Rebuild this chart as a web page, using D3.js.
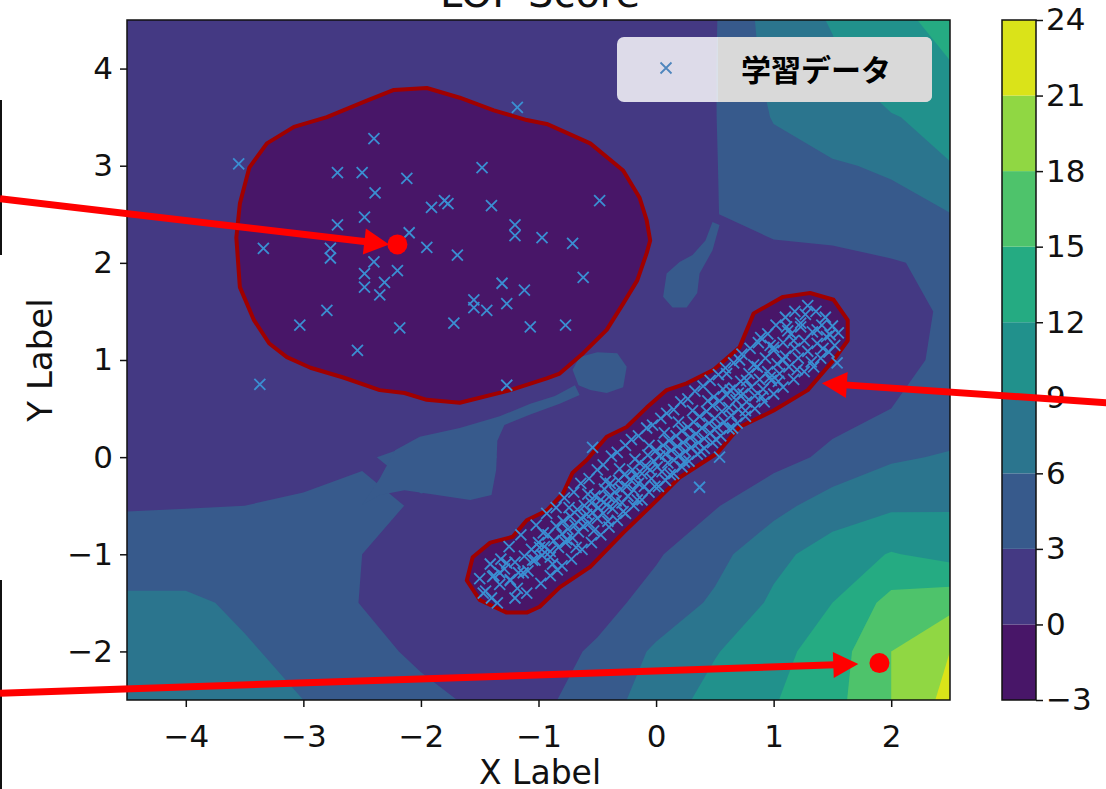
<!DOCTYPE html>
<html lang="ja">
<head>
<meta charset="UTF-8" />
<title>LOF Score</title>
<style>
  body { margin: 0; background: #fff; }
  svg { display: block; font-family: "DejaVu Sans", sans-serif; }
</style>
</head>
<body>
<svg width="1106" height="789"></svg>
<script src="https://d3js.org/d3.v7.min.js"></script>
<script>
// contour levels of the LOF score
const levels = [-3, 0, 3, 6, 9, 12, 15, 18, 21, 24];
const xTicks = [-4, -3, -2, -1, 0, 1, 2];
const yTicks = [-2, -1, 0, 1, 2, 3, 4];

// score on a 0.5 grid (rows top -> bottom)
const gridXs = [-4.5, -4, -3.5, -3, -2.5, -2, -1.5, -1, -0.5, 0, 0.5, 1, 1.5, 2, 2.5];
const gridYs = [4.5, 4, 3.5, 3, 2.5, 2, 1.5, 1, 0.5, 0, -0.5, -1, -1.5, -2, -2.5];
const scoreGrid = [
  [2, 2, 2, 2, 2, 2, 2, 2, 2, 2.2, 2.8, 7.5, 9.2, 11.2, 13],
  [2, 2, 2, 2, 2, 2, 2, 2, 2, 2.3, 2.9, 7, 8.5, 11, 11.8],
  [2, 2, 2, 2, 1.2, 1.2, 1.2, 1.2, 1.8, 2.0, 2.9, 6.2, 7.8, 8.8, 10],
  [2, 2, 2, 1.2, 1, 1, 1, 1, 1.3, 2.2, 2.9, 4.8, 5.7, 6.4, 8.9],
  [2, 2, 1.5, 1, 1, 1, 1, 1, 1, 2.0, 2.9, 4.3, 4.8, 5.0, 5.9],
  [2, 2, 1.5, 1, 1, 1, 1, 1, 1, 2.3, 3.0, 1.8, 2.0, 2.8, 3.6],
  [2, 2, 1.5, 1, 1, 1, 1, 1, 1, 2.5, 1.5, 0.5, 0.5, 2.0, 3.4],
  [2, 2, 2, 1, 1, 1, 1, 1, 2.5, 2.0, 1.2, 0.5, 1.0, 2.3, 3.5],
  [2, 2, 2, 2, 1.8, 1.7, 2.7, 2.9, 2.0, 1.0, 0.5, 1.0, 2.0, 3.0, 4.0],
  [2.1, 2.1, 2.1, 2.2, 2.8, 3.6, 3.5, 1.8, 1.0, 0.5, 1.0, 2.0, 3.6, 5.6, 6.3],
  [2.8, 2.9, 3.0, 3.3, 3.5, 2.8, 2.5, 1.0, 0.5, 1.0, 2.8, 5.0, 7.5, 8.5, 8.7],
  [4.5, 4.5, 4.6, 4.0, 3.0, 1.5, 0.8, 0.5, 1.0, 2.7, 5.0, 8.2, 10.3, 12.2, 11.0],
  [6.5, 6.5, 5.5, 4.5, 2.9, 1.8, 1.0, 1.0, 2.0, 4.0, 6.5, 9.5, 12.0, 16.0, 17.0],
  [7.0, 7.0, 6.3, 5.2, 4.0, 2.4, 1.5, 1.8, 3.4, 6.5, 8.8, 11, 13.5, 18, 21],
  [7.5, 7.5, 7.0, 6.0, 4.8, 3.8, 2.5, 2.3, 4.5, 7.5, 10, 11.8, 14, 18, 22]
];

// thin 3-6 ridge between the two groups
const ridgeBlobs = [
  [[-2.50, -0.49], [-2.35, -0.22], [-2.22, 0.07], [-2.01, 0.21], [-1.67, 0.30], [-1.33, 0.42],
   [-1.07, 0.55], [-0.86, 0.63], [-0.69, 0.74], [-0.65, 0.64], [-0.82, 0.55], [-1.07, 0.44],
   [-1.29, 0.33], [-1.35, 0.17], [-1.36, -0.13], [-1.40, -0.39], [-1.58, -0.44], [-1.92, -0.38],
   [-2.14, -0.34], [-2.35, -0.39]],
  [[-0.71, 0.90], [-0.65, 1.03], [-0.50, 1.08], [-0.33, 1.07], [-0.25, 0.93], [-0.28, 0.72],
   [-0.42, 0.66], [-0.56, 0.69], [-0.66, 0.74]],
  [[0.09, 1.89], [0.20, 2.01], [0.31, 2.08], [0.42, 2.23], [0.48, 2.42], [0.54, 2.39],
   [0.48, 2.13], [0.37, 1.89], [0.35, 1.69], [0.26, 1.54], [0.14, 1.54], [0.06, 1.65]]
];

// score < 0 regions (outlined in dark red)
const inlierRegions = [
  [[-2.80, 3.50], [-2.46, 3.67], [-2.23, 3.78], [-1.95, 3.80], [-1.67, 3.70], [-1.38, 3.57],
   [-1.10, 3.47], [-0.93, 3.43], [-0.56, 3.23], [-0.28, 2.95], [-0.14, 2.67], [-0.08, 2.44],
   [-0.05, 2.23], [-0.08, 2.10], [-0.16, 1.82], [-0.28, 1.58], [-0.42, 1.31], [-0.62, 1.07],
   [-0.82, 0.86], [-0.93, 0.81], [-1.24, 0.69], [-1.67, 0.56], [-1.95, 0.59], [-2.14, 0.66],
   [-2.35, 0.69], [-2.66, 0.82], [-2.94, 0.92], [-3.14, 1.03], [-3.29, 1.17], [-3.42, 1.41],
   [-3.54, 1.75], [-3.57, 2.26], [-3.54, 2.61], [-3.46, 2.98], [-3.31, 3.23], [-3.08, 3.40]],
  [[1.08, 1.65], [1.31, 1.69], [1.51, 1.62], [1.63, 1.41], [1.63, 1.20], [1.51, 1.00],
   [1.29, 0.69], [1.00, 0.48], [0.71, 0.31], [0.52, 0.04], [0.20, -0.21], [0.01, -0.44],
   [-0.28, -0.78], [-0.56, -1.13], [-0.82, -1.34], [-0.99, -1.54], [-1.10, -1.60], [-1.27, -1.60],
   [-1.50, -1.47], [-1.61, -1.27], [-1.56, -1.03], [-1.41, -0.88], [-1.22, -0.82], [-1.10, -0.65],
   [-0.93, -0.55], [-0.79, -0.37], [-0.71, -0.16], [-0.59, -0.03], [-0.42, 0.21], [-0.25, 0.31],
   [-0.08, 0.51], [0.09, 0.69], [0.26, 0.76], [0.49, 0.90], [0.71, 1.13], [0.83, 1.48]]
];

// training data, sparse group
const trainSparse = [
  [-3.55, 3.02], [-2.40, 3.28], [-2.71, 2.93], [-2.50, 2.93], [-2.12, 2.87], [-1.48, 2.98],
  [-1.18, 3.60], [-2.39, 2.72], [-1.91, 2.57], [-1.80, 2.64], [-1.77, 2.61], [-1.40, 2.59],
  [-2.71, 2.39], [-2.48, 2.47], [-2.10, 2.31], [-1.20, 2.39], [-1.20, 2.28], [-0.97, 2.26],
  [-3.34, 2.15], [-2.77, 2.15], [-2.77, 2.05], [-1.95, 2.16], [-1.69, 2.08], [-2.40, 2.01],
  [-2.20, 1.92], [-2.48, 1.89], [-2.31, 1.80], [-2.48, 1.75], [-2.35, 1.67], [-1.31, 1.79],
  [-1.12, 1.72], [-1.55, 1.62], [-1.55, 1.54], [-1.44, 1.51], [-1.27, 1.58], [-2.80, 1.51],
  [-3.03, 1.36], [-2.18, 1.33], [-1.72, 1.38], [-1.07, 1.34], [-2.54, 1.10], [-0.48, 2.64],
  [-0.71, 2.20], [-0.62, 1.85], [-0.77, 1.36], [-3.37, 0.75], [-1.27, 0.74]
];

// training data, dense diagonal group
const trainDense = [
  [-1.45, -1.38], [-1.38, -1.22], [-1.33, -1.31], [-1.29, -1.15], [-1.24, -1.26], [-1.20, -1.08],
  [-1.17, -1.19], [-1.12, -1.02], [-1.09, -1.17], [-1.06, -0.95], [-1.03, -1.06], [-1.00, -0.88],
  [-0.97, -1.01], [-0.95, -0.92], [-0.92, -0.80], [-0.90, -0.97], [-0.87, -0.86], [-0.85, -0.71],
  [-0.83, -0.93], [-0.80, -0.79], [-0.79, -0.66], [-0.77, -0.88], [-0.75, -0.74], [-0.73, -0.61],
  [-0.71, -0.83], [-0.69, -0.70], [-0.67, -0.54], [-0.66, -0.77], [-0.64, -0.63], [-0.62, -0.71],
  [-0.61, -0.50], [-0.59, -0.59], [-0.57, -0.68], [-0.55, -0.47], [-0.54, -0.57], [-0.52, -0.40],
  [-0.50, -0.63], [-0.49, -0.52], [-0.47, -0.44], [-0.45, -0.58], [-0.44, -0.33], [-0.42, -0.49],
  [-0.40, -0.41], [-0.39, -0.27], [-0.37, -0.53], [-0.35, -0.36], [-0.34, -0.45], [-0.32, -0.24],
  [-0.30, -0.33], [-0.29, -0.47], [-0.27, -0.18], [-0.25, -0.30], [-0.24, -0.40], [-0.22, -0.23],
  [-0.20, -0.13], [-0.19, -0.34], [-0.17, -0.19], [-0.15, -0.27], [-0.14, -0.06], [-0.12, -0.17],
  [-0.10, -0.30], [-0.09, -0.09], [-0.07, 0.02], [-0.05, -0.13], [-0.04, -0.22], [-0.02, -0.04],
  [0.00, 0.07], [0.01, -0.10], [0.03, 0.01], [0.05, -0.15], [0.06, 0.12], [0.08, 0.03],
  [0.10, -0.06], [0.11, 0.17], [0.13, 0.07], [0.15, -0.03], [0.17, 0.22], [0.18, 0.11],
  [0.20, 0.02], [0.22, 0.27], [0.23, 0.15], [0.25, 0.06], [0.27, 0.31], [0.29, 0.20],
  [0.30, 0.10], [0.32, 0.36], [0.34, 0.24], [0.36, 0.15], [0.37, 0.42], [0.39, 0.30],
  [0.41, 0.19], [0.43, 0.47], [0.45, 0.35], [0.46, 0.25], [0.48, 0.53], [0.50, 0.40],
  [0.52, 0.31], [0.54, 0.58], [0.56, 0.47], [0.58, 0.36], [0.60, 0.64], [0.62, 0.51],
  [0.64, 0.43], [0.66, 0.71], [0.68, 0.59], [0.70, 0.49], [0.72, 0.78], [0.74, 0.65],
  [0.77, 0.57], [0.79, 0.86], [0.81, 0.72], [0.84, 0.63], [0.86, 0.93], [0.88, 0.80],
  [0.91, 0.70], [0.93, 1.02], [0.95, 0.88], [0.98, 0.79], [1.00, 1.10], [1.03, 0.96],
  [1.05, 0.86], [1.08, 1.18], [1.10, 1.04], [1.13, 0.93], [1.15, 1.27], [1.18, 1.12],
  [1.21, 1.02], [1.23, 1.34], [1.26, 1.20], [1.29, 1.09], [1.33, 1.29], [1.37, 1.17],
  [1.41, 1.36], [1.45, 1.24], [1.52, 1.15],
  [1.29, 1.56], [1.48, 1.26], [1.54, 0.97], [1.34, 0.93], [0.89, 1.23], [1.00, 1.13],
  [1.11, 1.34], [1.23, 1.38], [1.37, 1.31], [1.17, 1.20], [0.71, 1.00], [0.86, 0.93],
  [1.08, 1.00], [0.97, 0.82], [0.77, 0.79], [0.60, 0.86], [0.63, 0.69], [0.49, 0.62],
  [-0.54, 0.10], [0.54, 0.00], [0.37, -0.31], [-1.47, -1.40], [-1.33, -1.19], [-1.24, -1.27],
  [-1.13, -1.19], [-1.05, -1.06], [-0.90, -1.03], [-0.99, -0.93], [-0.84, -1.16], [-0.76, -0.85],
  [-1.27, -1.09], [-1.39, -1.23],
  [-1.25, -0.92], [-1.15, -0.80], [-1.02, -0.70], [-0.93, -0.58], [-0.85, -0.52], [-0.78, -0.42],
  [-0.70, -0.36], [-0.64, -0.27], [-0.57, -0.22], [-0.50, -0.13], [-0.45, -0.08], [-0.38, 0.01],
  [-0.33, 0.05], [-0.26, 0.12], [-0.21, 0.18], [-0.15, 0.22], [-0.08, 0.30], [-0.03, 0.33],
  [0.04, 0.40], [0.09, 0.45], [0.15, 0.49], [0.21, 0.57], [0.27, 0.60], [0.33, 0.68],
  [0.40, 0.73], [0.46, 0.79], [0.53, 0.85], [0.59, 0.92], [0.66, 0.97], [0.73, 1.06],
  [0.80, 1.12], [0.87, 1.18], [0.95, 1.27], [1.02, 1.36], [1.10, 1.44], [1.18, 1.50],
  [1.36, 1.50], [1.44, 1.44],
  [-1.35, -1.50], [-1.20, -1.45], [-1.10, -1.40], [-0.98, -1.30], [-0.90, -1.22], [-0.80, -1.12],
  [-0.72, -1.05], [-0.63, -0.95], [-0.55, -0.88], [-0.47, -0.80], [-0.40, -0.72], [-0.33, -0.65],
  [-0.26, -0.58], [-0.19, -0.50], [-0.12, -0.44], [-0.06, -0.36], [0.02, -0.30], [0.08, -0.24],
  [0.15, -0.17], [0.22, -0.10], [0.28, -0.04], [0.35, 0.03], [0.41, 0.09], [0.48, 0.15],
  [0.55, 0.22], [0.62, 0.29], [0.69, 0.35], [0.76, 0.42], [0.84, 0.50], [0.92, 0.57],
  [1.00, 0.65], [1.08, 0.72], [1.17, 0.80], [1.26, 0.88], [1.40, 1.02], [1.47, 1.08],
  [-1.32, -1.05], [-1.41, -1.10], [-1.50, -1.25], [-1.40, -1.45], [-1.18, -1.35], [-0.96, -0.78],
  [-0.88, -1.10], [-0.74, -0.52], [-0.68, -0.93], [-0.58, -0.38], [-0.53, -0.76], [-0.43, -0.25],
  [-0.41, -0.66], [-0.31, -0.12], [-0.28, -0.56], [-0.18, -0.02], [-0.16, -0.44], [-0.06, 0.12],
  [-0.01, -0.30], [0.07, 0.25], [0.12, -0.18], [0.19, 0.36], [0.24, -0.05], [0.31, 0.48],
  [0.38, 0.06], [0.44, 0.58], [0.51, 0.18], [0.57, 0.70], [0.65, 0.30], [0.70, 0.66],
  [0.76, 0.48], [0.83, 0.95], [0.90, 0.62], [0.97, 1.15], [1.04, 0.78], [1.12, 1.30],
  [1.20, 0.90], [1.27, 1.47], [1.32, 0.98], [1.42, 1.12], [1.50, 1.35], [1.55, 1.28]
];

// red annotation arrows (data coords, tails run off the axes)
const arrows = [
  { tail: [-5.58, 2.66], tip: [-2.27, 2.19], dot: [-2.20, 2.19] },
  { tail: [-5.58, -2.43], tip: [1.72, -2.13], dot: [1.90, -2.12] },
  { tail: [3.83, 0.56], tip: [1.41, 0.76], dot: null }
];

const svg = d3.select("svg");
const x = d3.scaleLinear().domain([-4.5, 2.5]).range([127, 950]);
const y = d3.scaleLinear().domain([-2.5, 4.5]).range([700, 20]);
const cbY = d3.scaleLinear().domain([levels[0], levels[levels.length - 1]]).range([700, 20]);

const lo = levels[0], hi = levels[levels.length - 1];
const bandColor = i => d3.interpolateViridis(((levels[i] + levels[i + 1]) / 2 - lo) / (hi - lo));
const markerColor = "#3a8fd2";

svg.append("clipPath").attr("id", "plotclip")
  .append("rect").attr("x", 127).attr("y", 20).attr("width", 823).attr("height", 680);

const plot = svg.append("g").attr("clip-path", "url(#plotclip)");

// filled contours
const nx = gridXs.length, ny = gridYs.length;
const stepX = gridXs[1] - gridXs[0], stepY = gridYs[1] - gridYs[0];
const toScreen = d3.geoTransform({
  point(gx, gy) {
    this.stream.point(x(gridXs[0] + (gx - 0.5) * stepX), y(gridYs[0] + (gy - 0.5) * stepY));
  }
});
const contourPath = d3.geoPath(toScreen);
const bands = d3.contours().size([nx, ny]).thresholds(levels.slice(0, -1))(scoreGrid.flat());

plot.selectAll("path.band").data(bands).join("path")
  .attr("class", "band")
  .attr("d", contourPath)
  .attr("fill", (d, i) => bandColor(i));

const line = d3.line().x(d => x(d[0])).y(d => y(d[1])).curve(d3.curveLinearClosed);

plot.selectAll("path.ridge").data(ridgeBlobs).join("path")
  .attr("class", "ridge")
  .attr("d", line)
  .attr("fill", bandColor(2));

plot.selectAll("path.inlier").data(inlierRegions).join("path")
  .attr("class", "inlier")
  .attr("d", line)
  .attr("fill", bandColor(0))
  .attr("stroke", "#a00000")
  .attr("stroke-width", 4)
  .attr("stroke-linejoin", "round");

// training points
const cross = "M-5.5,-5.5L5.5,5.5M-5.5,5.5L5.5,-5.5";
plot.selectAll("path.pt").data(trainSparse.concat(trainDense)).join("path")
  .attr("class", "pt")
  .attr("d", cross)
  .attr("transform", d => `translate(${x(d[0])},${y(d[1])})`)
  .attr("stroke", markerColor)
  .attr("stroke-width", 1.8)
  .attr("fill", "none");

// frame
svg.append("rect").attr("x", 127).attr("y", 20).attr("width", 823).attr("height", 680)
  .attr("fill", "none").attr("stroke", "#111").attr("stroke-width", 1.5);

// axes
const styleAxis = g => {
  g.select(".domain").remove();
  g.selectAll("line").attr("stroke", "#111").attr("stroke-width", 1.5);
  g.selectAll("text").attr("font-size", 31).attr("font-family", "DejaVu Sans").attr("fill", "#111");
};

svg.append("g").attr("transform", "translate(0,700)")
  .call(d3.axisBottom(x).tickValues(xTicks).tickSize(7).tickPadding(18).tickFormat(d3.format("d")))
  .call(styleAxis);

svg.append("g").attr("transform", "translate(127,0)")
  .call(d3.axisLeft(y).tickValues(yTicks).tickSize(7).tickPadding(7).tickFormat(d3.format("d")))
  .call(styleAxis);

svg.append("text").attr("x", 540).attr("y", 784).attr("text-anchor", "middle")
  .attr("font-size", 33).attr("fill", "#111").text("X Label");
svg.append("text").attr("transform", "translate(52,360) rotate(-90)").attr("text-anchor", "middle")
  .attr("font-size", 34).attr("fill", "#111").text("Y Label");
svg.append("text").attr("x", 540).attr("y", 7).attr("text-anchor", "middle")
  .attr("font-size", 40).attr("fill", "#111").text("LOF Score");

// colorbar
const cb = svg.append("g");
cb.selectAll("rect").data(levels.slice(0, -1)).join("rect")
  .attr("x", 1002).attr("width", 34)
  .attr("y", (d, i) => cbY(levels[i + 1]))
  .attr("height", (d, i) => cbY(levels[i]) - cbY(levels[i + 1]))
  .attr("fill", (d, i) => bandColor(i));
cb.append("rect").attr("x", 1002).attr("y", 20).attr("width", 34).attr("height", 680)
  .attr("fill", "none").attr("stroke", "#111").attr("stroke-width", 1.5);
svg.append("g").attr("transform", "translate(1036,0)")
  .call(d3.axisRight(cbY).tickValues(levels).tickSize(7).tickPadding(3).tickFormat(d3.format("d")))
  .call(styleAxis);

// legend
const lg = svg.append("g");
lg.append("rect").attr("x", 617).attr("y", 37).attr("width", 315).attr("height", 65).attr("rx", 7)
  .attr("fill", "#fff").attr("fill-opacity", 0.82);
lg.append("path")
  .attr("d", "M718,37H925Q932,37 932,44V95Q932,102 925,102H718Z")
  .attr("fill", "#d9d9d9");
lg.append("path").attr("d", cross).attr("transform", "translate(666,68)")
  .attr("stroke", "#4f86bd").attr("stroke-width", 1.8).attr("fill", "none");
lg.append("text").attr("x", 816).attr("y", 81).attr("text-anchor", "middle")
  .attr("font-family", "Noto Sans CJK JP").attr("font-weight", "bold").attr("font-size", 30)
  .attr("fill", "#000").text("学習データ");

// stray black edges on the left border
svg.append("rect").attr("x", 0).attr("y", 100).attr("width", 2).attr("height", 155).attr("fill", "#111");
svg.append("rect").attr("x", 0).attr("y", 580).attr("width", 2).attr("height", 209).attr("fill", "#111");

// arrows
const ann = svg.append("g");
arrows.forEach(a => {
  const p0 = [x(a.tail[0]), y(a.tail[1])];
  const p1 = [x(a.tip[0]), y(a.tip[1])];
  const len = Math.hypot(p1[0] - p0[0], p1[1] - p0[1]);
  const ux = (p1[0] - p0[0]) / len, uy = (p1[1] - p0[1]) / len;
  const headLen = 25, headW = 13;
  const bx = p1[0] - ux * headLen, by = p1[1] - uy * headLen;
  ann.append("line")
    .attr("x1", p0[0]).attr("y1", p0[1]).attr("x2", bx + ux * 2).attr("y2", by + uy * 2)
    .attr("stroke", "#ff0000").attr("stroke-width", 7);
  ann.append("path")
    .attr("d", `M${p1[0]},${p1[1]}L${bx - uy * headW},${by + ux * headW}L${bx + uy * headW},${by - ux * headW}Z`)
    .attr("fill", "#ff0000");
  if (a.dot) {
    ann.append("circle").attr("cx", x(a.dot[0])).attr("cy", y(a.dot[1])).attr("r", 10).attr("fill", "#ff0000");
  }
});
</script>
</body>
</html>
